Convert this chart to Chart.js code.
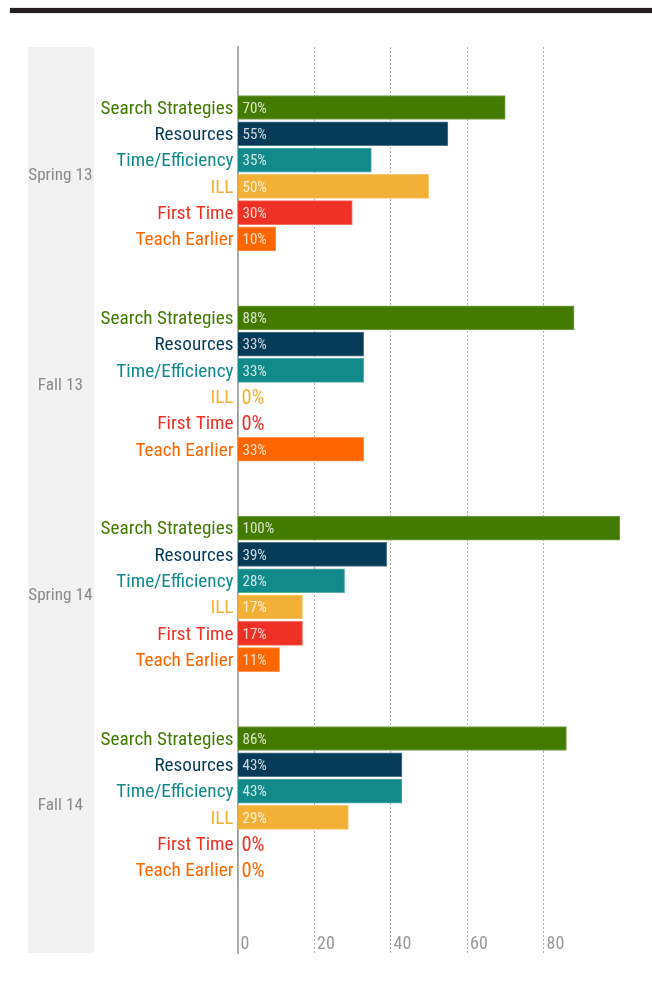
<!DOCTYPE html>
<html><head><meta charset="utf-8">
<script src="https://cdn.jsdelivr.net/npm/chart.js@4/dist/chart.umd.min.js"></script>
<style>
html,body{margin:0;padding:0;background:#fff;}
#wrap{position:relative;width:652px;height:986px;overflow:hidden;}
#topbar{position:absolute;left:10px;top:8px;width:642px;height:5px;background:#231f20;box-shadow:0 0 1px #777;}
canvas{position:absolute;left:0;top:0;}
</style></head><body>
<div id="wrap"><canvas id="c" width="652" height="986"></canvas><div id="topbar"></div></div>
<script>
// ---- data ----
const groups = ['Spring 13', 'Fall 13', 'Spring 14', 'Fall 14'];
const categories = ['Search Strategies', 'Resources', 'Time/Efficiency', 'ILL', 'First Time', 'Teach Earlier'];
const searchStrategies = [70, 88, 100, 86];
const resources = [55, 33, 39, 43];
const timeEfficiency = [35, 33, 28, 43];
const ill = [50, 0, 17, 29];
const firstTime = [30, 0, 17, 0];
const teachEarlier = [10, 33, 11, 0];
const xTicks = [0, 20, 40, 60, 80];

// ---- style ----
const colors = ['#437a00', '#063c58', '#128a89', '#f2b136', '#ee3124', '#ff6600'];
const FONT = "'Roboto Condensed', 'DejaVu Sans Condensed', sans-serif";
const SLOTS_PER_GROUP = 8;
const Y_MIN = -2.30, Y_MAX = 32.16;

const seriesValues = [searchStrategies, resources, timeEfficiency, ill, firstTime, teachEarlier];

function lighten(hex, f) {
  const n = parseInt(hex.slice(1), 16);
  const r = (n >> 16) & 255, g = (n >> 8) & 255, b = n & 255;
  const m = c => Math.round(c + (255 - c) * f);
  return `rgb(${m(r)},${m(g)},${m(b)})`;
}

const barSlots = [];
groups.forEach((g, gi) => categories.forEach((c, j) => barSlots.push(gi * SLOTS_PER_GROUP + j)));
const groupSlots = groups.map((g, gi) => gi * SLOTS_PER_GROUP + (categories.length - 1) / 2);

const datasets = categories.map((name, j) => ({
  label: name,
  data: seriesValues[j].map((v, gi) => ({ x: v, y: gi * SLOTS_PER_GROUP + j })),
  backgroundColor: colors[j],
  borderColor: lighten(colors[j], 0.3),
  borderWidth: ctx => (ctx.raw && ctx.raw.x > 0) ? 1 : 0,
  borderSkipped: 'start',
  barThickness: 24,
  grouped: false
}));

const panelPlugin = {
  id: 'panel',
  beforeDraw(chart) {
    const s = chart.scales.y2, a = chart.chartArea, ctx = chart.ctx;
    ctx.save();
    ctx.fillStyle = '#f2f2f2';
    ctx.fillRect(s.left, a.top, s.right - s.left, a.bottom - a.top);
    ctx.restore();
  }
};

const valueLabelPlugin = {
  id: 'valueLabels',
  afterDatasetsDraw(chart) {
    const ctx = chart.ctx;
    chart.data.datasets.forEach((ds, j) => {
      const meta = chart.getDatasetMeta(j);
      meta.data.forEach((bar, gi) => {
        const v = ds.data[gi].x;
        ctx.save();
        ctx.textAlign = 'left';
        ctx.textBaseline = 'middle';
        if (v > 0) {
          ctx.font = `15px ${FONT}`;
          ctx.fillStyle = 'rgba(255,255,255,0.8)';
          ctx.fillText(v + '%', bar.base + 4.5, bar.y + 1.5);
        } else {
          ctx.font = `20.5px ${FONT}`;
          ctx.fillStyle = colors[j];
          ctx.fillText(v + '%', bar.base + 4, bar.y + 2);
        }
        ctx.restore();
      });
    });
  }
};

new Chart(document.getElementById('c'), {
  type: 'bar',
  data: { datasets },
  plugins: [panelPlugin, valueLabelPlugin],
  options: {
    indexAxis: 'y',
    responsive: false,
    animation: false,
    layout: { padding: { left: 28, right: 32, top: 47, bottom: 33 } },
    plugins: { legend: { display: false }, tooltip: { enabled: false } },
    scales: {
      x: {
        type: 'linear', position: 'bottom', min: 0, max: 100,
        afterBuildTicks: s => { s.ticks = xTicks.map(v => ({ value: v })); },
        afterFit: s => { s.height = 0; },
        grid: {
          drawTicks: false, lineWidth: 1,
          color: ctx => (ctx.tick && ctx.tick.value === 0) ? 'rgba(0,0,0,0)' : '#b3b3b3'
        },
        border: { display: false, dash: [2, 2] },
        ticks: {
          mirror: true, padding: -2.5, align: 'start', labelOffset: 3, autoSkip: false, maxRotation: 0,
          color: '#9a9a9a', font: { family: FONT, size: 18 },
          callback: v => String(v)
        }
      },
      y: {
        type: 'linear', position: 'left', reverse: true, offset: false, min: Y_MIN, max: Y_MAX, weight: 0,
        afterBuildTicks: s => { s.ticks = barSlots.map(v => ({ value: v })); },
        afterFit: s => { s.width = 143.5; },
        grid: { display: false, drawTicks: false },
        border: { display: true, color: '#ababab', width: 2 },
        ticks: {
          autoSkip: false, padding: 4, labelOffset: 1.5,
          color: ctx => colors[Math.round(ctx.tick.value) % SLOTS_PER_GROUP],
          font: { family: FONT, size: 19.2 },
          callback: v => categories[Math.round(v) % SLOTS_PER_GROUP]
        }
      },
      y2: {
        type: 'linear', axis: 'y', position: 'left', reverse: true, offset: false, min: Y_MIN, max: Y_MAX, weight: 1,
        afterBuildTicks: s => { s.ticks = groupSlots.map(v => ({ value: v })); },
        afterFit: s => { s.width = 66; },
        grid: { display: false, drawTicks: false },
        border: { display: false },
        ticks: {
          autoSkip: false, padding: 1.5, crossAlign: 'center', labelOffset: 2,
          color: '#8a8a8a', font: { family: FONT, size: 17.2 },
          callback: (v, i) => groups[i]
        }
      }
    }
  }
});
</script>
</body></html>
